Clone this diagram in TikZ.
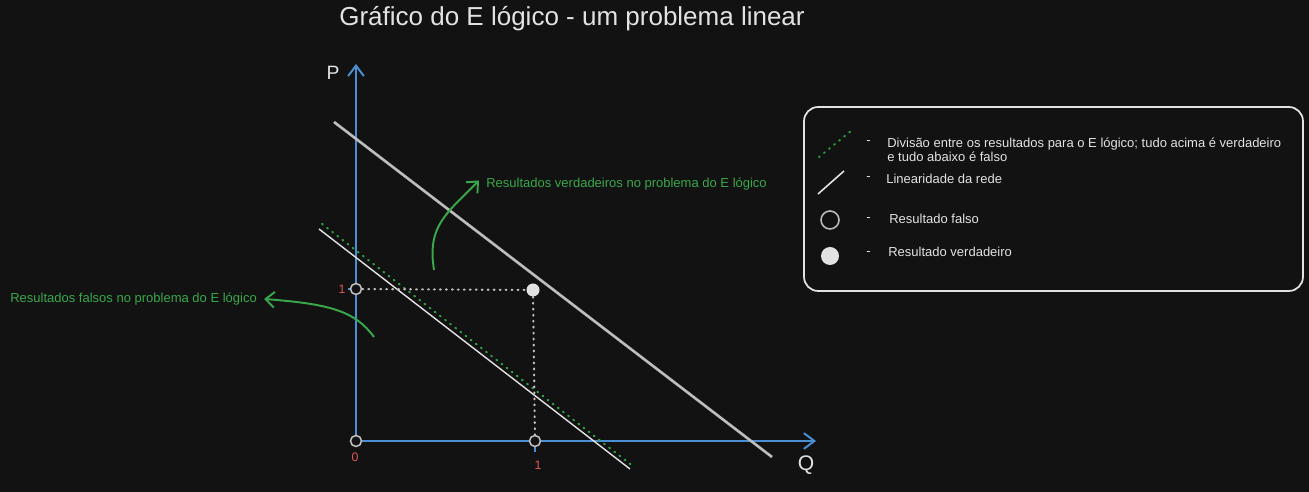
\documentclass[tikz,border=0pt]{standalone}
\usepackage{fontspec}
\setmainfont{Liberation Sans}
\usetikzlibrary{arrows.meta}
\definecolor{bg}{HTML}{121212}
\definecolor{axisblue}{HTML}{4A8FD3}
\definecolor{lgreen}{HTML}{38A84B}
\definecolor{dgreen}{HTML}{2F9E44}
\definecolor{numred}{HTML}{E05A5A}
\definecolor{ink}{HTML}{E2E2E2}
\definecolor{greyline}{HTML}{BDBDBD}
\tikzset{
  axis/.style={axisblue, line width=1.1pt, -{Straight Barb[length=6pt,width=9pt]}},
  ptopen/.style={circle, draw=greyline, line width=0.9pt, fill=bg, inner sep=0pt, minimum size=0.22cm},
  ptfull/.style={circle, fill=ink, inner sep=0pt, minimum size=0.26cm},
  guide/.style={greyline, line width=1.2pt, dash pattern=on 0.5pt off 2.9pt, line cap=round},
  split/.style={dgreen, line width=1.2pt, dash pattern=on 0.5pt off 3.2pt, line cap=round},
  garrow/.style={lgreen, line width=1.1pt, -{Straight Barb[length=5pt,width=9pt]}},
  gtext/.style={lgreen, font=\fontsize{7.4}{8.5}\selectfont, inner sep=0pt},
  legtext/.style={ink, font=\fontsize{7.4}{8.5}\selectfont, inner sep=0pt, anchor=west},
  numlbl/.style={numred, font=\fontsize{7}{8}\selectfont, inner sep=0pt}
}
\begin{document}
\begin{tikzpicture}[x=0.02cm, y=-0.02cm]
  \fill[bg] (0,0) rectangle (1309,492);
  % title
  \node (title) at (572,19) [ink, font=\fontsize{14.8}{16}\selectfont] {Gráfico do E lógico - um problema linear};
  % axes and points
  \coordinate (ptop) at (356,64); \coordinate (qend) at (816,441);
  \draw[axis] (356,441) -- (ptop); \draw[axis] (356,441) -- (qend);
  \draw[axisblue, line width=1.1pt] (535,441) -- (535,452);
  \draw[axisblue, line width=1.1pt] (348,289) -- (356,289);
  \node (plbl) at (333,73) [ink, font=\fontsize{11}{12}\selectfont] {P};
  \node (qlbl) at (806,465) [ink, font=\fontsize{12}{13}\selectfont] {Q};
  % separating lines
  \coordinate (g1) at (334,122); \coordinate (g2) at (772,457);
  \coordinate (w1) at (319,229); \coordinate (w2) at (630,469);
  \coordinate (s1) at (322,224); \coordinate (s2) at (634,467);
  \draw[greyline, line width=1.5pt] (g1) -- (g2);
  \draw[ink, line width=0.8pt] (w1) -- (w2);
  \draw[split] (s1) -- (s2);
  \node (o) at (356,441) [ptopen] {};
  \node (p1) at (356,289) [ptopen] {};
  \node (q1) at (535,441) [ptopen] {};
  \node (t) at (533,290) [ptfull] {};
  \draw[guide] (p1) -- (t); \draw[guide] (t) -- (q1);
  \node (n0) at (355,457) [numlbl] {0};
  \node (np) at (342,289) [numlbl] {1};
  \node (nq) at (538,465) [numlbl] {1};
  % annotations
  \node (lfalse) at (10,299) [gtext, anchor=west] {Resultados falsos no problema do E lógico};
  \node (ltrue) at (486,184) [gtext, anchor=west] {Resultados verdadeiros no problema do E lógico};
  \coordinate (fs) at (374,337); \coordinate (ts) at (434,270);
  \draw[garrow] (fs) .. controls (355,311) and (330,304) .. ([xshift=4pt]lfalse.east);
  \draw[garrow] (ts) .. controls (427,226) and (446,214) .. ([xshift=-4pt,yshift=2pt]ltrue.west);
  % legend
  \node (leg) at (1053.5,199) [draw=ink, line width=1pt, rounded corners=8pt, minimum width=9.98cm, minimum height=3.68cm] {};
  \coordinate (ls1) at (819,157); \coordinate (ls2) at (851,131);
  \draw[split] (ls1) -- (ls2);
  \coordinate (lw1) at (818,194); \coordinate (lw2) at (844,171);
  \draw[ink, line width=0.9pt] (lw1) -- (lw2);
  \node (lo) at (830,220) [ptopen, minimum size=0.36cm] {};
  \node (lf) at (830,256) [ptfull, minimum size=0.36cm] {};
  \node (d1) at (866,143) [legtext] {-}; \node (d2) at (866,179) [legtext] {-};
  \node (d3) at (866,220) [legtext] {-}; \node (d4) at (866,254) [legtext] {-};
  \node (t1) at (887,150) [legtext, align=left, font=\fontsize{7.4}{7.9}\selectfont] {Divisão entre os resultados para o E lógico; tudo acima é verdadeiro\\e tudo abaixo é falso};
  \node (t2) at (886,179) [legtext] {Linearidade da rede};
  \node (t3) at (889,219) [legtext] {Resultado falso};
  \node (t4) at (888,252) [legtext] {Resultado verdadeiro};
\end{tikzpicture}
\end{document}
